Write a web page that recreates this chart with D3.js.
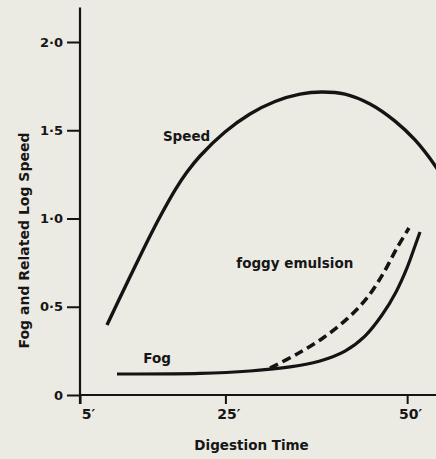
<!DOCTYPE html>
<html>
<head>
<meta charset="utf-8">
<script src="https://cdn.jsdelivr.net/npm/d3@7/dist/d3.min.js"></script>
<style>
  html, body { margin: 0; padding: 0; background: #ebeae3; }
  svg { display: block; }
  text { font-family: "DejaVu Sans", sans-serif; font-weight: 700; fill: #161616; }
</style>
</head>
<body>
<svg id="chart" width="436" height="459"></svg>
<script>
// Digestion time in minutes, and log-speed / fog values
const speedTime  = [8.71, 11.60, 14.63, 16.28, 18.07, 19.72, 21.51, 24.94, 28.38, 31.82, 35.26, 38.29, 41.45, 44.89, 48.33, 51.08, 53.97, 55.2];
const speedValue = [0.397, 0.646, 0.901, 1.031, 1.161, 1.263, 1.354, 1.490, 1.592, 1.663, 1.705, 1.717, 1.705, 1.649, 1.552, 1.445, 1.292, 1.21];

const fogTime  = [10.09, 21.51, 28.38, 33.89, 38.01, 41.45, 44.20, 46.54, 48.47, 49.98, 51.08, 51.77];
const fogValue = [0.119, 0.122, 0.136, 0.159, 0.193, 0.249, 0.334, 0.453, 0.584, 0.720, 0.844, 0.924];

const foggyTime  = [31.13, 34.85, 38.42, 41.73, 44.48, 46.68, 48.60, 50.25];
const foggyValue = [0.153, 0.232, 0.323, 0.431, 0.550, 0.686, 0.833, 0.946];

const xTicks = [5, 25, 50];
const yTicks = [0, 0.5, 1.0, 1.5, 2.0];

const curveLabels = [
  { text: "Speed", t: 16.4, v: 1.44 },
  { text: "Fog", t: 13.7, v: 0.181 },
  { text: "foggy emulsion", t: 26.5, v: 0.72 }
];

const ink = "#141414";
const svg = d3.select("#chart");

const x = d3.scaleLinear().domain([5, 55]).range([80, 443.5]);
const y = d3.scaleLinear().domain([0, 2]).range([395, 42]);

// Axes
const yAxis = d3.axisLeft(y)
  .tickValues(yTicks)
  .tickSize(13)
  .tickPadding(4)
  .tickFormat(d => d === 0 ? "0" : d.toFixed(1).replace(".", "·"));

const gy = svg.append("g").attr("transform", `translate(${x(5)},0)`).call(yAxis);
gy.select(".domain").remove();
gy.selectAll(".tick line").attr("stroke", ink).attr("stroke-width", 2);
gy.selectAll(".tick text").style("font-family", "DejaVu Sans").style("font-size", "13px").attr("fill", ink);

const xAxis = d3.axisBottom(x)
  .tickValues(xTicks)
  .tickSize(9)
  .tickPadding(5)
  .tickFormat(d => d + "′");

const gx = svg.append("g").attr("transform", `translate(0,${y(0)})`).call(xAxis);
gx.select(".domain").remove();
gx.selectAll(".tick line").attr("stroke", ink).attr("stroke-width", 2);
gx.selectAll(".tick text")
  .style("font-family", "DejaVu Sans").style("font-size", "14px").attr("fill", ink)
  .attr("dx", d => d === xTicks[0] ? 8 : 3);

// Axis lines
svg.append("line")
  .attr("x1", x(5)).attr("x2", x(5))
  .attr("y1", y(2.195)).attr("y2", y(0) + 9)
  .attr("stroke", ink).attr("stroke-width", 2.2);
svg.append("line")
  .attr("x1", x(5)).attr("x2", x(56))
  .attr("y1", y(0)).attr("y2", y(0))
  .attr("stroke", ink).attr("stroke-width", 2);

// Axis titles
svg.append("text")
  .attr("transform", `translate(29,${(y(0.24) + y(1.51)) / 2}) rotate(-90)`)
  .attr("text-anchor", "middle")
  .style("font-size", "14px")
  .text("Fog and Related Log Speed");

svg.append("text")
  .attr("x", x(28.6)).attr("y", 450)
  .attr("text-anchor", "middle")
  .style("font-size", "13.5px")
  .text("Digestion Time");

// Curves
const line = d3.line().x(d => x(d[0])).y(d => y(d[1])).curve(d3.curveCatmullRom.alpha(0.5));

svg.append("path")
  .datum(d3.zip(speedTime, speedValue))
  .attr("d", line)
  .attr("fill", "none").attr("stroke", ink)
  .attr("stroke-width", 3.4).attr("stroke-linecap", "butt");

svg.append("path")
  .datum(d3.zip(fogTime, fogValue))
  .attr("d", line)
  .attr("fill", "none").attr("stroke", ink)
  .attr("stroke-width", 3.2).attr("stroke-linecap", "butt");

svg.append("path")
  .datum(d3.zip(foggyTime, foggyValue))
  .attr("d", line)
  .attr("fill", "none").attr("stroke", ink)
  .attr("stroke-width", 3.6)
  .attr("stroke-dasharray", "9,5");

// Curve labels
svg.selectAll("text.curve-label")
  .data(curveLabels)
  .join("text")
  .attr("class", "curve-label")
  .attr("x", d => x(d.t)).attr("y", d => y(d.v))
  .style("font-size", "13.5px")
  .text(d => d.text);
</script>
</body>
</html>
